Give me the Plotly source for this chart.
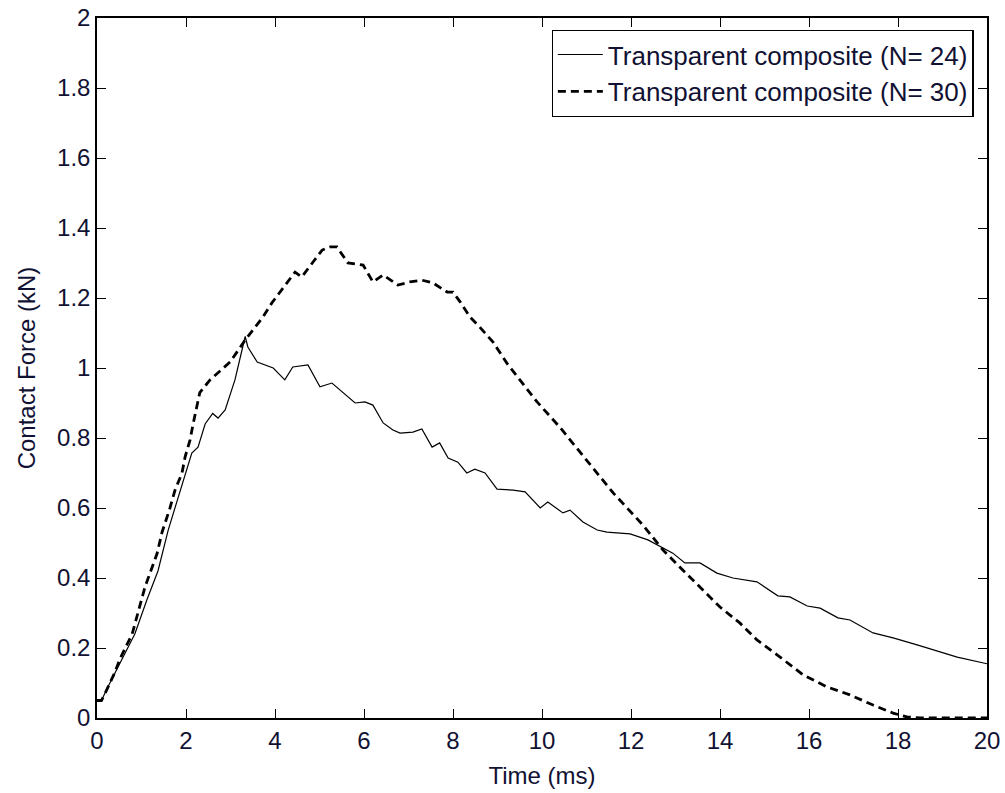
import plotly.graph_objects as go

# N = 24 (solid)
t24 = [0.0, 0.1, 0.25, 0.56, 0.85, 1.12, 1.37, 1.6, 1.82, 1.98, 2.13, 2.27, 2.43, 2.6, 2.72, 2.88,
       3.1, 3.33, 3.39, 3.6, 3.96, 4.22, 4.4, 4.74, 5.01, 5.28, 5.8, 6.02, 6.2, 6.43, 6.65, 6.81,
       7.1, 7.3, 7.53, 7.7, 7.89, 8.11, 8.31, 8.49, 8.72, 8.99, 9.35, 9.62, 9.96, 10.13, 10.33,
       10.47, 10.63, 10.92, 11.24, 11.46, 11.98, 12.38, 12.94, 13.21, 13.55, 13.93, 14.29, 14.83,
       15.3, 15.57, 15.96, 16.25, 16.65, 16.92, 17.44, 17.89, 18.43, 18.94, 19.33, 20.0]
f24 = [0.05, 0.05, 0.09, 0.166, 0.24, 0.337, 0.42, 0.537, 0.63, 0.70, 0.757, 0.774, 0.84, 0.87, 0.857, 0.88,
       0.966, 1.09, 1.06, 1.017, 1.0, 0.966, 1.003, 1.009, 0.946, 0.957, 0.90, 0.903, 0.894, 0.843, 0.823, 0.814,
       0.817, 0.826, 0.774, 0.786, 0.743, 0.731, 0.70, 0.711, 0.70, 0.654, 0.651, 0.646, 0.60, 0.617, 0.60,
       0.586, 0.594, 0.56, 0.537, 0.531, 0.526, 0.509, 0.471, 0.443, 0.443, 0.414, 0.40, 0.389,
       0.349, 0.346, 0.32, 0.314, 0.286, 0.28, 0.243, 0.229, 0.209, 0.189, 0.174, 0.155]

# N = 30 (dashed)
t30 = [0.0, 0.1, 0.18, 0.4, 0.52, 0.79, 1.08, 1.35, 1.46, 1.64, 1.75, 1.91, 1.98, 2.09, 2.16, 2.31, 2.54,
       2.99, 3.33, 3.55, 3.73, 3.93, 4.11, 4.27, 4.45, 4.6, 4.83, 5.06, 5.24, 5.39, 5.64, 5.98, 6.2,
       6.43, 6.76, 7.03, 7.3, 7.55, 7.87, 8.0, 8.16, 8.38, 8.6, 8.9, 9.21, 9.5, 9.89, 10.4, 11.0,
       11.6, 12.27, 12.72, 13.1, 13.55, 14.0, 14.45, 14.83, 15.35, 15.87, 16.4, 16.92, 17.44, 17.89,
       18.2, 18.5, 20.0]
f30 = [0.05, 0.05, 0.07, 0.13, 0.17, 0.24, 0.375, 0.47, 0.53, 0.60, 0.65, 0.70, 0.746, 0.794, 0.84, 0.93, 0.966,
       1.017, 1.08, 1.117, 1.146, 1.186, 1.217, 1.243, 1.274, 1.26, 1.30, 1.337, 1.346, 1.346, 1.30, 1.294, 1.246,
       1.266, 1.237, 1.246, 1.251, 1.243, 1.217, 1.217, 1.189, 1.146, 1.117, 1.074, 1.014, 0.966, 0.903, 0.831, 0.737,
       0.643, 0.551, 0.48, 0.431, 0.374, 0.317, 0.271, 0.223, 0.174, 0.123, 0.089, 0.066, 0.037, 0.014,
       0.003, 0.0, 0.0]

x_ticks = [0, 2, 4, 6, 8, 10, 12, 14, 16, 18, 20]
y_ticks = [0, 0.2, 0.4, 0.6, 0.8, 1, 1.2, 1.4, 1.6, 1.8, 2]
y_tick_text = ["0", "0.2", "0.4", "0.6", "0.8", "1", "1.2", "1.4", "1.6", "1.8", "2"]

font_family = "Liberation Sans, Arial, sans-serif"
text_color = "#111133"

fig = go.Figure()
fig.add_trace(go.Scatter(x=t24, y=f24, mode="lines", name="Transparent composite (N= 24)",
                         line=dict(color="black", width=1.2)))
fig.add_trace(go.Scatter(x=t30, y=f30, mode="lines", name="Transparent composite (N= 30)",
                         line=dict(color="black", width=2.8, dash="8px,5px")))

axis_common = dict(showline=True, linecolor="black", linewidth=1.5, mirror="ticks",
                   ticks="inside", ticklen=9, tickwidth=1.2, tickcolor="black",
                   showgrid=False, zeroline=False, automargin=False,
                   tickfont=dict(family=font_family, size=24, color=text_color))

fig.update_xaxes(range=[0, 20], tickvals=x_ticks, ticktext=[str(v) for v in x_ticks],
                 title=dict(text="Time (ms)", font=dict(family=font_family, size=24, color=text_color)),
                 **axis_common)
fig.update_yaxes(range=[0, 2], tickvals=y_ticks, ticktext=y_tick_text,
                 title=dict(text="Contact Force (kN)", font=dict(family=font_family, size=24, color=text_color)),
                 **axis_common)

fig.update_layout(
    width=1005, height=793,
    margin=dict(l=97, r=18, t=18, b=75, autoexpand=False),
    paper_bgcolor="white", plot_bgcolor="white",
    showlegend=True,
    legend=dict(x=0.985, y=0.983, xanchor="right", yanchor="top",
                bgcolor="white", bordercolor="black", borderwidth=1.2,
                font=dict(family=font_family, size=26, color=text_color),
                tracegroupgap=0, itemwidth=45),
)

fig.write_html("out.html")
